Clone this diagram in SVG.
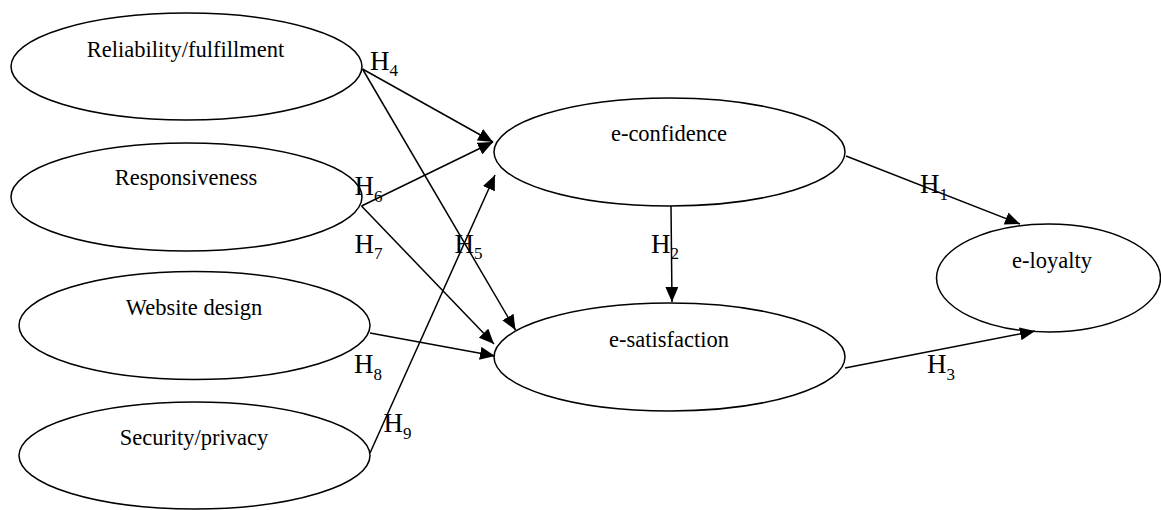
<svg xmlns="http://www.w3.org/2000/svg" width="1161" height="510" viewBox="0 0 1161 510">
<style>
.node ellipse{fill:#fff;stroke:#000;stroke-width:1.5}
.node text{font-family:"Liberation Serif","Times New Roman",serif;font-size:22.5px;fill:#000;text-anchor:middle}
.conn line{stroke:#000;stroke-width:1.5;marker-end:url(#arr)}
.lbl{font-family:"Liberation Serif","Times New Roman",serif;font-size:27px;fill:#000}
.lbl tspan{font-size:17px}
</style>
<defs>
<marker id="arr" viewBox="0 0 15 13" refX="15" refY="6.5" markerWidth="15" markerHeight="13" markerUnits="userSpaceOnUse" orient="auto">
<path d="M0,0 L15,6.5 L0,13 z" fill="#000"/>
</marker>
</defs>
<rect width="1161" height="510" fill="#fff"/>
<g id="n-reliability" class="node"><ellipse cx="186.5" cy="66.5" rx="175.5" ry="53.5"/><text x="185.5" y="57">Reliability/fulfillment</text></g>
<g id="n-responsiveness" class="node"><ellipse cx="186.5" cy="197" rx="175.5" ry="54"/><text x="186" y="185">Responsiveness</text></g>
<g id="n-website" class="node"><ellipse cx="194.5" cy="325.5" rx="175.5" ry="54"/><text x="194" y="315">Website design</text></g>
<g id="n-security" class="node"><ellipse cx="194.5" cy="455.5" rx="175.5" ry="53.5"/><text x="194" y="445">Security/privacy</text></g>
<g id="n-confidence" class="node"><ellipse cx="669.5" cy="152" rx="175.5" ry="54"/><text x="669" y="141">e-confidence</text></g>
<g id="n-satisfaction" class="node"><ellipse cx="669.5" cy="357" rx="175.5" ry="54"/><text x="669" y="347">e-satisfaction</text></g>
<g id="n-loyalty" class="node"><ellipse cx="1048.5" cy="278" rx="112" ry="54"/><text x="1052" y="268">e-loyalty</text></g>
<g id="connectors" class="conn">
<line x1="362.5" y1="69" x2="493" y2="142"/>
<line x1="362.5" y1="69" x2="515.5" y2="330"/>
<line x1="361.5" y1="206" x2="493" y2="142"/>
<line x1="361.5" y1="206" x2="494" y2="344"/>
<line x1="370" y1="333" x2="495" y2="356"/>
<line x1="370" y1="453" x2="495" y2="175"/>
<line x1="671" y1="206" x2="672" y2="302"/>
<line x1="846" y1="156" x2="1020" y2="224"/>
<line x1="845" y1="368" x2="1035" y2="331"/>
</g>
<g id="labels">
<text class="lbl" x="370" y="69.5">H<tspan dy="6.5">4</tspan></text>
<text class="lbl" x="454.5" y="252.5">H<tspan dy="6.5">5</tspan></text>
<text class="lbl" x="354.5" y="195">H<tspan dy="6.5">6</tspan></text>
<text class="lbl" x="354.5" y="252.5">H<tspan dy="6.5">7</tspan></text>
<text class="lbl" x="354" y="373">H<tspan dy="6.5">8</tspan></text>
<text class="lbl" x="383.5" y="432">H<tspan dy="6.5">9</tspan></text>
<text class="lbl" x="651" y="252.5">H<tspan dy="6.5">2</tspan></text>
<text class="lbl" x="920" y="193">H<tspan dy="6.5">1</tspan></text>
<text class="lbl" x="927" y="373">H<tspan dy="6.5">3</tspan></text>
</g>
</svg>
